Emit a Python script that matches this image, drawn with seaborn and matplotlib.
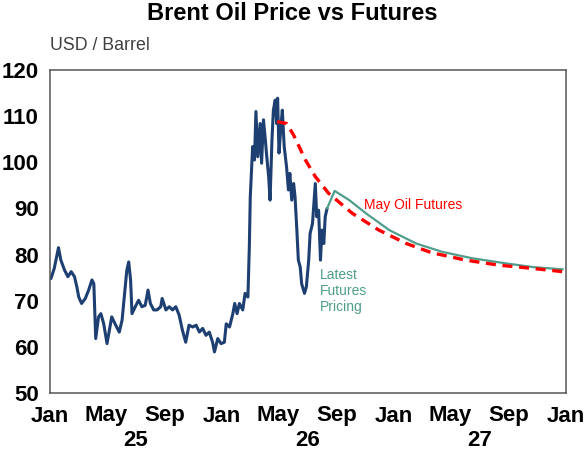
import pandas as pd
import seaborn as sns
import matplotlib.pyplot as plt

# Brent price
price_dates = ['2025-01-03', '2025-01-10', '2025-01-19', '2025-01-24', '2025-02-01', '2025-02-08', '2025-02-15',
               '2025-02-22', '2025-02-27', '2025-03-03', '2025-03-09', '2025-03-17', '2025-03-24', '2025-03-31',
               '2025-04-04', '2025-04-08', '2025-04-14', '2025-04-19', '2025-04-25', '2025-05-02', '2025-05-07',
               '2025-05-12', '2025-05-19', '2025-05-28', '2025-06-03', '2025-06-09', '2025-06-13', '2025-06-17',
               '2025-06-21', '2025-06-24', '2025-07-01', '2025-07-08', '2025-07-15', '2025-07-22', '2025-07-28',
               '2025-08-02', '2025-08-09', '2025-08-16', '2025-08-24', '2025-08-27', '2025-09-04', '2025-09-11',
               '2025-09-18', '2025-09-25', '2025-10-02', '2025-10-09', '2025-10-16', '2025-10-23', '2025-10-31',
               '2025-11-07', '2025-11-14', '2025-11-21', '2025-11-28', '2025-12-05', '2025-12-12', '2025-12-16',
               '2025-12-23', '2025-12-30', '2026-01-06', '2026-01-10', '2026-01-17', '2026-01-24', '2026-01-28',
               '2026-02-02', '2026-02-07', '2026-02-14', '2026-02-19', '2026-02-25', '2026-02-28',
               '2026-03-02', '2026-03-07', '2026-03-11', '2026-03-14', '2026-03-18', '2026-03-23', '2026-03-26',
               '2026-03-30', '2026-04-03', '2026-04-06', '2026-04-10', '2026-04-13', '2026-04-17', '2026-04-20',
               '2026-04-24', '2026-04-27', '2026-04-29', '2026-05-02', '2026-05-06', '2026-05-09', '2026-05-13',
               '2026-05-18', '2026-05-22', '2026-05-25', '2026-05-29', '2026-06-02', '2026-06-05', '2026-06-09',
               '2026-06-12', '2026-06-16', '2026-06-19', '2026-06-25', '2026-06-29', '2026-07-04', '2026-07-07',
               '2026-07-12', '2026-07-18', '2026-07-21', '2026-07-25', '2026-07-29', '2026-08-01', '2026-08-05',
               '2026-08-08', '2026-08-12']
price_values = [74.8, 77, 81.5, 78.8, 76.6, 75.2, 76.3, 75.2, 73, 70.8,
                69.4, 70.5, 72.3, 74.5, 73.7, 61.8, 66.5, 67.2, 65, 60.7,
                63.6, 66.5, 65, 63.2, 65.8, 72.3, 76.6, 78.4, 74.5, 67.2,
                68.7, 70.1, 68.7, 69, 72.3, 69.4, 68, 68, 68.7, 70.5,
                68, 68.7, 68, 68.7, 66.9, 63.6, 61, 64.7, 64.3, 64.7,
                63.2, 64, 62.5, 63.2, 61, 58.9, 61.8, 60.7, 61, 65,
                64.3, 67.2, 69.4, 67.2, 69.4, 68, 71.6, 70.8, 81.7,
                92.5, 103.4, 100.5, 111, 101.2, 108.4, 99.8,
                109.2, 104.8, 101.2, 96.9, 91.8, 104.8, 111.3,
                113.5, 108.4, 113.9, 102, 107.7, 111.3, 103.4,
                99, 94, 97.6, 91.8, 95.4, 92.5, 85,
                78.8, 77.3, 73.7, 71.6, 73, 78.8, 84.6,
                86.7, 95.4, 88.2, 89.6, 78.8, 85.3, 82.4,
                88.2, 90]

# latest futures curve
latest_dates = ['2026-08-12', '2026-08-28', '2026-09-28', '2026-11-03', '2026-12-22', '2027-02-17',
                '2027-04-13', '2027-06-16', '2027-08-26', '2027-10-22', '2027-12-25']
latest_values = [90, 93.8, 91.8, 88.9, 85.3, 82.4, 80.6, 79.2, 78.1, 77.3, 76.8]

# futures curve as at May
may_dates = ['2026-04-28', '2026-05-18', '2026-06-02', '2026-06-27', '2026-07-18', '2026-08-15', '2026-10-05',
             '2026-11-30', '2027-01-27', '2027-03-22', '2027-06-02', '2027-08-12', '2027-10-22', '2027-12-25']
may_values = [108.8, 108.4, 105.9, 100.5, 96.9, 93.3, 88.9, 85.3, 82.4, 80.4, 78.8, 77.7, 77, 76.3]

tick_dates = ['2025-01-01', '2025-05-01', '2025-09-01', '2026-01-01', '2026-05-01', '2026-09-01',
              '2027-01-01', '2027-05-01', '2027-09-01', '2028-01-01']
tick_labels = ['Jan', 'May', 'Sep', 'Jan', 'May', 'Sep', 'Jan', 'May', 'Sep', 'Jan']
year_dates = ['2025-07-01', '2026-07-01', '2027-07-01']
year_labels = ['25', '26', '27']

price_df = pd.DataFrame({'date': pd.to_datetime(price_dates), 'value': price_values})
latest_df = pd.DataFrame({'date': pd.to_datetime(latest_dates), 'value': latest_values})
may_df = pd.DataFrame({'date': pd.to_datetime(may_dates), 'value': may_values})

sns.set_style('white')
plt.rcParams['font.family'] = ['Liberation Sans', 'DejaVu Sans']
plt.rcParams['text.color'] = 'black'
plt.rcParams['xtick.labelcolor'] = 'black'
plt.rcParams['ytick.labelcolor'] = 'black'

navy = '#1d3f72'
teal = '#4f9e8c'
red = '#ff0000'

fig = plt.figure(figsize=(5.85, 4.58), dpi=100)
ax = fig.add_axes([50 / 585, 1 - 393 / 458, 516 / 585, 323 / 458])

sns.lineplot(data=price_df, x='date', y='value', color=navy, linewidth=2.2, ax=ax)
sns.lineplot(data=latest_df, x='date', y='value', color=teal, linewidth=1.6, ax=ax)
sns.lineplot(data=may_df, x='date', y='value', color=red, linewidth=2.4, ax=ax)
ax.lines[-1].set_linestyle((0, (3, 2)))

ax.set_xlim(pd.Timestamp('2025-01-01'), pd.Timestamp('2028-01-01'))
ax.set_ylim(50, 120)
ax.set_yticks(range(50, 121, 10))
ax.set_xticks(pd.to_datetime(tick_dates))
ax.set_xticklabels(tick_labels)
ax.set_xlabel('')
ax.set_ylabel('')

for s in ax.spines.values():
    s.set_color('#555555')
    s.set_linewidth(1.1)

ax.tick_params(axis='y', direction='out', length=5, width=1, color='#555555', pad=3,
               labelsize=16, labelcolor='black')
ax.tick_params(axis='x', direction='in', length=4, width=1, color='#555555', pad=9,
               labelsize=16, labelcolor='black')
for lab in ax.get_xticklabels() + ax.get_yticklabels():
    lab.set_fontweight('bold')

for d, y in zip(year_dates, year_labels):
    ax.text(pd.Timestamp(d), -0.115, y, transform=ax.get_xaxis_transform(),
            ha='center', va='top', fontsize=16, fontweight='bold', color='black')

ax.text(pd.Timestamp('2026-10-30'), 90.7, 'May Oil Futures', color=red, fontsize=10,
        ha='left', va='center')
ax.text(pd.Timestamp('2026-07-27'), 72.1, 'Latest\nFutures\nPricing', color=teal, fontsize=10,
        ha='left', va='center', linespacing=1.15)

fig.text(0.5, 1 - 14 / 458, 'Brent Oil Price vs Futures', ha='center', va='center',
         fontsize=17, fontweight='bold', color='black')
fig.text(50 / 585, 1 - 45 / 458, 'USD / Barrel', ha='left', va='center', fontsize=12.8,
         color='#404040')

fig.savefig('out.png', dpi=100)
